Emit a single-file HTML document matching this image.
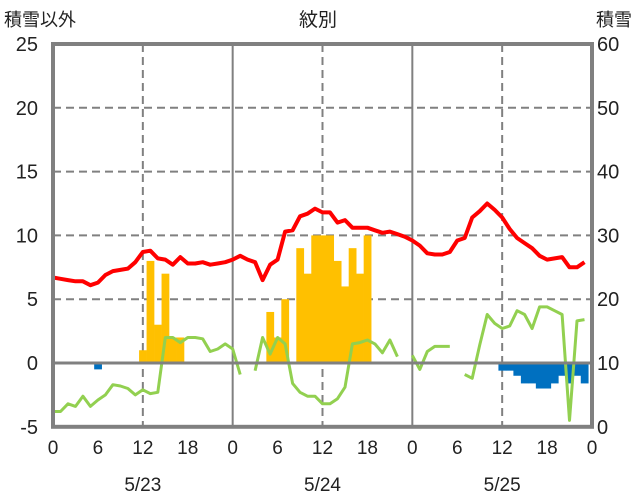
<!DOCTYPE html>
<html><head><meta charset="utf-8">
<style>
body{margin:0;background:#fff;}
svg{display:block;font-family:"Liberation Sans","Noto Sans CJK JP",sans-serif;}
</style></head>
<body>
<svg id="chart" width="636" height="501" viewBox="0 0 636 501">
<text x="318" y="26" text-anchor="middle" font-size="19" fill="#222">紋別</text>
<text x="4" y="26" font-size="18" fill="#222">積雪以外</text>
<text x="632" y="26" text-anchor="end" font-size="18" fill="#222">積雪</text>
<g id="grid"></g><g id="bars"></g><g id="lines"></g><g id="frame"></g><g id="labels"></g>
</svg>
<script>
const hours = Array.from({length:72},(_,i)=>i);
const redTemp = [6.7,6.6,6.5,6.4,6.4,6.1,6.3,6.9,7.2,7.3,7.4,7.9,8.7,8.8,8.2,8.1,7.7,8.3,7.8,7.8,7.9,7.7,7.8,7.9,
 8.1,8.4,8.1,7.9,6.5,7.7,8.1,10.3,10.4,11.5,11.7,12.1,11.8,11.8,11.0,11.2,10.6,10.6,10.6,10.4,10.2,10.3,10.1,9.9,
 9.6,9.2,8.6,8.5,8.5,8.7,9.6,9.8,11.4,11.9,12.5,12.0,11.4,10.5,9.8,9.4,9.0,8.4,8.1,8.2,8.3,7.5,7.5,7.9];
const greenVals = [-3.8,-3.8,-3.2,-3.4,-2.6,-3.4,-2.9,-2.5,-1.7,-1.8,-2.0,-2.5,-2.1,-2.4,-2.3,2.0,2.0,1.6,2.0,2.0,1.9,0.9,1.1,1.5,
 1.1,-0.9,null,-0.6,2.0,0.7,2.0,1.5,-1.6,-2.3,-2.6,-2.6,-3.2,-3.2,-2.8,-1.9,1.5,1.6,1.8,1.5,0.8,1.8,0.5,null,
 0.6,-0.5,0.9,1.3,1.3,1.3,null,-0.9,-1.2,1.4,3.8,3.1,2.7,2.9,4.1,3.8,2.7,4.4,4.4,4.1,3.8,-4.5,3.3,3.4];
const orangeHours = [12,13,14,15,16,17,29,30,31,33,34,35,36,37,38,39,40,41,42];
const orangeVals  = [1,8,3,7,2,2,4,2,5,9,7,10,10,10,8,6,9,7,10];
const blueHours = [6,60,61,62,63,64,65,66,67,68,69,70,71];
const blueVals  = [-0.5,-0.6,-0.6,-1.0,-1.6,-1.6,-2.0,-2.0,-1.6,-1.0,-1.6,-1.0,-1.6];
const leftTicks = [-5,0,5,10,15,20,25];
const rightTicks = [0,10,20,30,40,50,60];
const xTickHours = [0,6,12,18,24,30,36,42,48,54,60,66,72];
const xTickLabels = ["0","6","12","18","0","6","12","18","0","6","12","18","0"];
const dateHours = [12,36,60];
const dateLabels = ["5/23","5/24","5/25"];

const X0=53, X1=592, Y0=363, YT=44;
const x = h => X0 + (X1-X0)*h/72;
const y = v => Y0 - (Y0-YT)*v/25;
const yR = v => y(v/2 - 5);
const NS="http://www.w3.org/2000/svg";
function mk(tag, attrs, parent){const e=document.createElementNS(NS,tag);for(const k in attrs)e.setAttribute(k,attrs[k]);document.getElementById(parent).appendChild(e);return e;}

// grid
[5,10,15,20].forEach(v=>{
 const e=mk('line',{x1:X0,x2:X1,y1:y(v),y2:y(v),stroke:'#808080','stroke-width':2,'stroke-dasharray':'8,5'},'grid');
 
 
});
[12,36,60].forEach(h=>{
 const e=mk('line',{x1:x(h),x2:x(h),y1:YT,y2:y(-5),stroke:'#808080','stroke-width':2,'stroke-dasharray':'8,5'},'grid');
 
 
});
[24,48].forEach(h=>{
 const e=mk('line',{x1:x(h),x2:x(h),y1:YT,y2:y(-5),stroke:'#808080','stroke-width':2},'grid');
 
 
});

// bars
const bw=(X1-X0)/72;
orangeHours.forEach((h,i)=>{
 const v=orangeVals[i];
 const e=mk('rect',{x:x(h)-bw/2,y:y(v),width:bw+0.3,height:y(0)-y(v),fill:'#ffc000'},'bars');
 
 
});
blueHours.forEach((h,i)=>{
 const v=blueVals[i];
 const e=mk('rect',{x:x(h)-bw/2,y:y(0),width:bw+0.3,height:y(v)-y(0),fill:'#0070c0'},'bars');
 
 
});

// zero line
const z=mk('line',{x1:X0,x2:X1,y1:y(0),y2:y(0),stroke:'#808080','stroke-width':3},'frame');



// green line segments
let seg=[];
const segs=[];
greenVals.forEach((v,i)=>{ if(v===null){ if(seg.length) segs.push(seg); seg=[]; } else seg.push(x(hours[i]).toFixed(1)+','+y(v).toFixed(1)); });
if(seg.length) segs.push(seg);
segs.forEach(s=>{
 const e=mk('polyline',{points:s.join(' '),fill:'none',stroke:'#92d050','stroke-width':3,'stroke-linejoin':'round'},'lines');
 
 
});
// red line
const rl=mk('polyline',{points:redTemp.map((v,i)=>x(hours[i]).toFixed(1)+','+y(v).toFixed(1)).join(' '),fill:'none',stroke:'#ff0000','stroke-width':4,'stroke-linejoin':'round'},'lines');



// frame
const fr=mk('rect',{x:X0,y:YT,width:X1-X0,height:y(-5)-YT,fill:'none',stroke:'#808080','stroke-width':4},'frame');



// labels
leftTicks.forEach(v=>{
 const t=mk('text',{x:38,y:y(v)+7,'text-anchor':'end','font-size':20,fill:'#222'},'labels');
 t.textContent=v;
 
 
});
rightTicks.forEach(v=>{
 const t=mk('text',{x:597,y:yR(v)+7,'font-size':20,fill:'#222'},'labels');
 t.textContent=v;
 
 
});
xTickHours.forEach((h,i)=>{
 const t=mk('text',{x:x(h),y:454,'text-anchor':'middle','font-size':19,fill:'#222'},'labels');
 t.textContent=xTickLabels[i];
 
 
});
dateHours.forEach((h,i)=>{
 const t=mk('text',{x:x(h),y:491,'text-anchor':'middle','font-size':19,fill:'#222'},'labels');
 t.textContent=dateLabels[i];
 
 
});
</script>
</body></html>
